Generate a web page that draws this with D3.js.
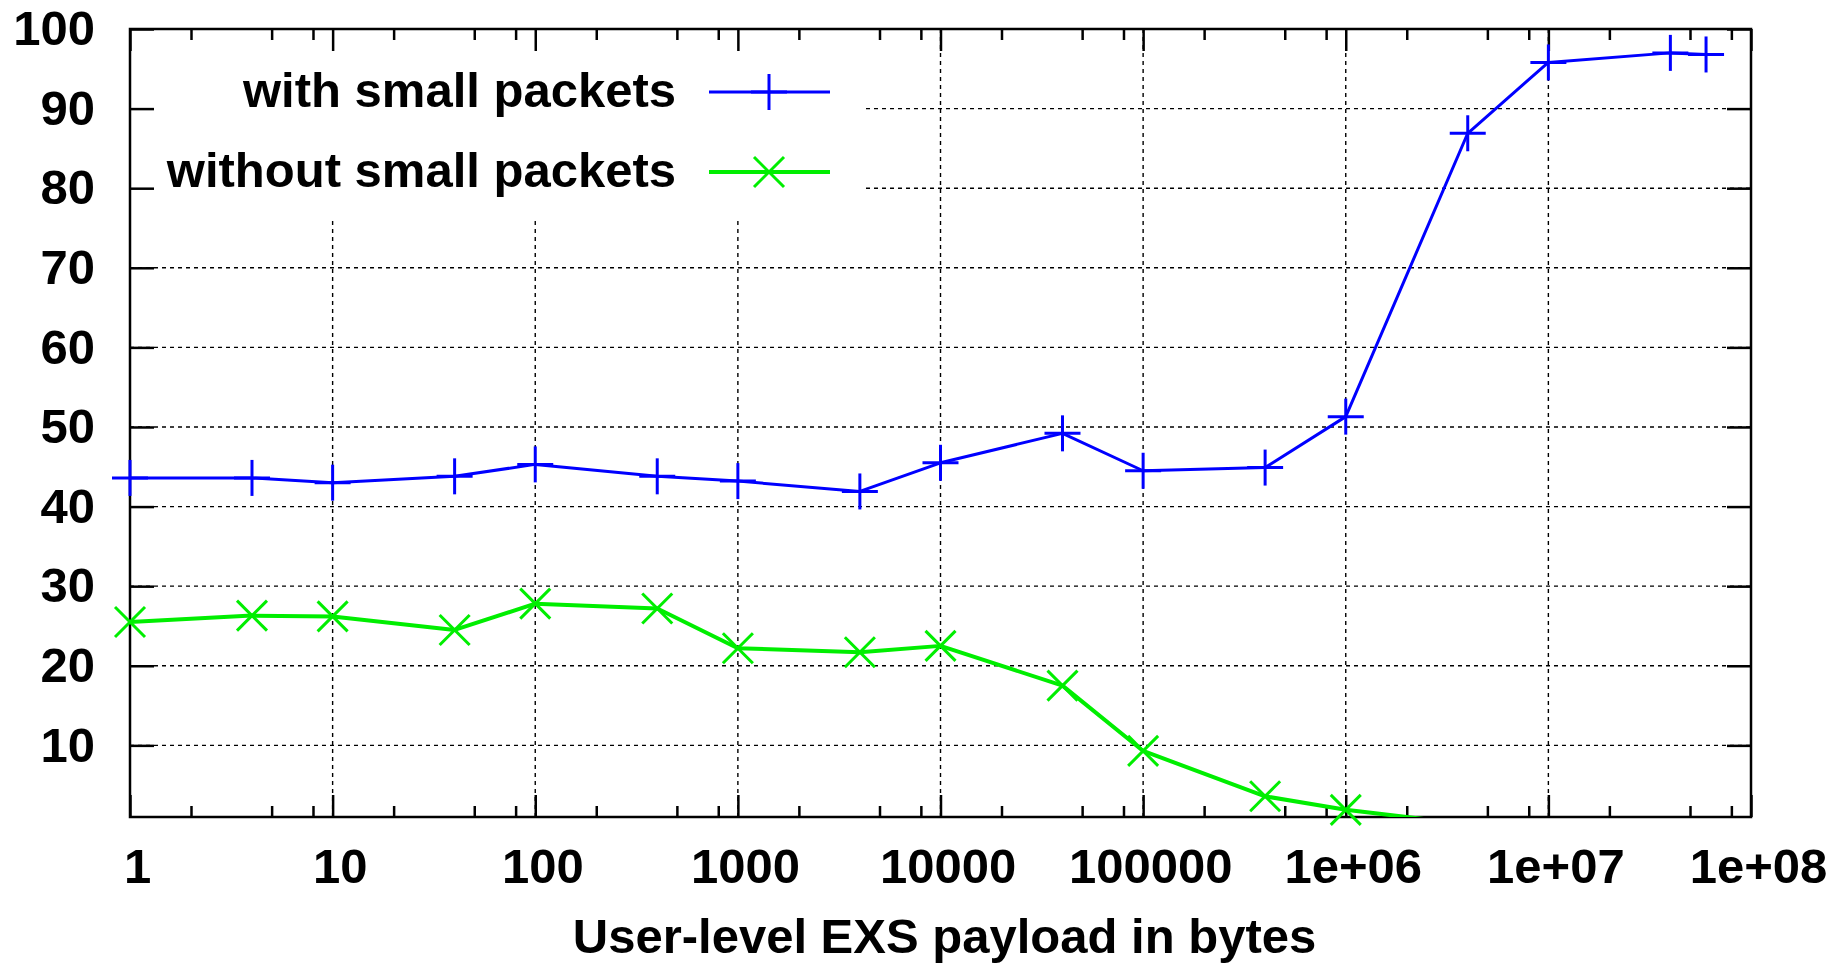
<!DOCTYPE html>
<html>
<head>
<meta charset="utf-8">
<script src="https://cdn.jsdelivr.net/npm/d3@7/dist/d3.min.js"></script>
<style>
  html, body { margin: 0; padding: 0; background: #fff; }
  svg { display: block; }
  text { font-family: "Liberation Sans", Arial, sans-serif; font-weight: bold; fill: #000; }
</style>
</head>
<body>
<svg id="chart" width="1847" height="964"></svg>
<script>
// ---- data ----
const xTickValues = [1, 10, 100, 1000, 1e4, 1e5, 1e6, 1e7, 1e8];
const xTickLabels = ["1", "10", "100", "1000", "10000", "100000", "1e+06", "1e+07", "1e+08"];
const xMinorFactors = [2, 5, 8];
const yTickValues = [10, 20, 30, 40, 50, 60, 70, 80, 90, 100];
const yTickLabels = ["10", "20", "30", "40", "50", "60", "70", "80", "90", "100"];

const seriesNames = ["with small packets", "without small packets"];
const withX = [1, 4, 10, 40, 100, 400, 1000, 4000, 1e4, 4e4, 1e5, 4e5, 1e6, 4e6, 1e7, 4e7, 6e7];
const withY = [43.6, 43.6, 43.0, 43.8, 45.3, 43.8, 43.2, 41.9, 45.5, 49.2, 44.5, 44.9, 51.3, 86.9, 95.8, 97.0, 96.8];
const withoutX = [1, 4, 10, 40, 100, 400, 1000, 4000, 1e4, 4e4, 1e5, 4e5, 1e6, 4e6];
const withoutY = [25.5, 26.3, 26.2, 24.5, 27.8, 27.2, 22.2, 21.7, 22.5, 17.5, 9.3, 3.6, 1.9, 0.1];
const xTitle = "User-level EXS payload in bytes";

// ---- layout ----
const L = 130, R = 1751, T = 29, B = 817;
const FS = 49;
const svg = d3.select("#chart");
svg.append("rect").attr("width", 1847).attr("height", 964).attr("fill", "#fff");

const x = d3.scaleLog().domain([1, 1e8]).range([L, R]);
const y = d3.scaleLinear().domain([1, 100]).range([B, T]);

const xMinor = [];
for (let d = 1; d < 1e8; d *= 10) xMinorFactors.forEach(f => xMinor.push(d * f));

// clip
svg.append("defs").append("clipPath").attr("id", "plotclip")
  .append("rect").attr("x", L).attr("y", T).attr("width", R - L).attr("height", B - T);

// ---- grid ----
const grid = svg.append("g").attr("stroke", "#000").attr("stroke-width", 1.4)
  .attr("stroke-dasharray", "4,4");
grid.selectAll("line.vg").data(xTickValues.slice(1, -1)).join("line")
  .attr("x1", d => x(d)).attr("x2", d => x(d)).attr("y1", B).attr("y2", T);
grid.selectAll("line.hg").data(yTickValues.slice(0, -1)).join("line")
  .attr("x1", L).attr("x2", R).attr("y1", d => y(d)).attr("y2", d => y(d));

// legend background (opaque)
svg.append("rect").attr("x", L + 1).attr("y", T + 1).attr("width", 861 - L).attr("height", 216 - T)
  .attr("fill", "#fff");

// ---- axes (ticks inward) ----
function styleAxis(g) {
  g.select(".domain").remove();
  g.selectAll(".tick line").attr("stroke", "#000").attr("stroke-width", 2.5);
}
const fmtX = d => xTickLabels[xTickValues.indexOf(d)];
const fmtY = d => yTickLabels[yTickValues.indexOf(d)];

const gB = svg.append("g").attr("transform", `translate(0,${B})`)
  .call(d3.axisBottom(x).tickValues(xTickValues).tickSize(-22).tickPadding(31).tickFormat(fmtX));
styleAxis(gB);
gB.selectAll(".tick text").attr("font-size", FS).attr("dx", 7)
  .attr("font-family", "Liberation Sans, Arial, sans-serif").attr("font-weight", "bold");

const gBm = svg.append("g").attr("transform", `translate(0,${B})`)
  .call(d3.axisBottom(x).tickValues(xMinor).tickSize(-11).tickFormat(""));
styleAxis(gBm);

const gT = svg.append("g").attr("transform", `translate(0,${T})`)
  .call(d3.axisTop(x).tickValues(xTickValues).tickSize(-22).tickFormat(""));
styleAxis(gT);
const gTm = svg.append("g").attr("transform", `translate(0,${T})`)
  .call(d3.axisTop(x).tickValues(xMinor).tickSize(-11).tickFormat(""));
styleAxis(gTm);

const gL = svg.append("g").attr("transform", `translate(${L},0)`)
  .call(d3.axisLeft(y).tickValues(yTickValues).tickSize(-24).tickPadding(35).tickFormat(fmtY));
styleAxis(gL);
gL.selectAll(".tick text").attr("font-size", FS)
  .attr("font-family", "Liberation Sans, Arial, sans-serif").attr("font-weight", "bold");

const gR = svg.append("g").attr("transform", `translate(${R},0)`)
  .call(d3.axisRight(y).tickValues(yTickValues).tickSize(-24).tickFormat(""));
styleAxis(gR);

// frame
svg.append("rect").attr("x", L).attr("y", T).attr("width", R - L).attr("height", B - T)
  .attr("fill", "none").attr("stroke", "#000").attr("stroke-width", 2.5);

// ---- series ----
const blue = "#0000ff", green = "#00ee00";
const line = d3.line().x(d => x(d[0])).y(d => y(d[1]));
const withData = withX.map((v, i) => [v, withY[i]]);
const withoutData = withoutX.map((v, i) => [v, withoutY[i]]);
const inRange = d => d[1] >= 1 && d[1] <= 100;

function plus(g, cx, cy, col) {
  g.append("line").attr("x1", cx - 18).attr("x2", cx + 18).attr("y1", cy).attr("y2", cy)
    .attr("stroke", col).attr("stroke-width", 3);
  g.append("line").attr("x1", cx).attr("x2", cx).attr("y1", cy - 18).attr("y2", cy + 18)
    .attr("stroke", col).attr("stroke-width", 3);
}
function cross(g, cx, cy, col) {
  const s = 15;
  g.append("line").attr("x1", cx - s).attr("x2", cx + s).attr("y1", cy - s).attr("y2", cy + s)
    .attr("stroke", col).attr("stroke-width", 3);
  g.append("line").attr("x1", cx - s).attr("x2", cx + s).attr("y1", cy + s).attr("y2", cy - s)
    .attr("stroke", col).attr("stroke-width", 3);
}

svg.append("path").datum(withoutData).attr("d", line).attr("clip-path", "url(#plotclip)")
  .attr("fill", "none").attr("stroke", green).attr("stroke-width", 4).attr("stroke-linejoin", "round");
const gm2 = svg.append("g");
withoutData.filter(inRange).forEach(d => cross(gm2, x(d[0]), y(d[1]), green));

svg.append("path").datum(withData).attr("d", line).attr("clip-path", "url(#plotclip)")
  .attr("fill", "none").attr("stroke", blue).attr("stroke-width", 3).attr("stroke-linejoin", "round");
const gm1 = svg.append("g");
withData.filter(inRange).forEach(d => plus(gm1, x(d[0]), y(d[1]), blue));

// ---- legend ----
const legRows = [
  { name: seriesNames[0], col: blue, cy: 92, mark: plus, w: 3 },
  { name: seriesNames[1], col: green, cy: 172, mark: cross, w: 4 }
];
const lg = svg.append("g");
legRows.forEach(r => {
  lg.append("text").attr("x", 676).attr("y", r.cy + 15).attr("text-anchor", "end")
    .attr("font-size", FS).text(r.name);
  lg.append("line").attr("x1", 709).attr("x2", 830).attr("y1", r.cy).attr("y2", r.cy)
    .attr("stroke", r.col).attr("stroke-width", r.w);
  r.mark(lg, 769, r.cy, r.col);
});

// x title
svg.append("text").attr("x", (L + R) / 2 + 4).attr("y", 953).attr("text-anchor", "middle")
  .attr("font-size", FS).text(xTitle);
</script>
</body>
</html>
